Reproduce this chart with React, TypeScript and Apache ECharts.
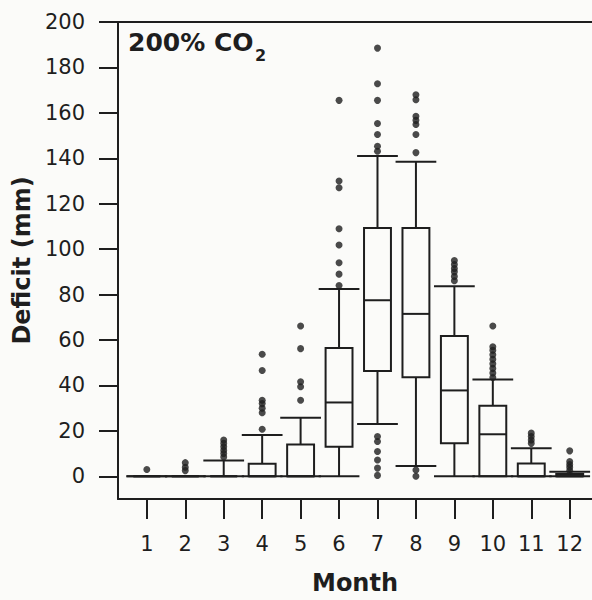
import React, { useEffect, useRef } from "react";
import * as echarts from "echarts";

const months = [1, 2, 3, 4, 5, 6, 7, 8, 9, 10, 11, 12];
const whiskerLow = [0, 0, 0, 0, 0, 0, 23, 4.5, 0, 0, 0, 0];
const quartile1 = [0, 0, 0, 0, 0, 13, 46.3, 43.6, 14.5, 0, 0, 0];
const medians = [0, 0, 0, 0, 0, 32.5, 77.5, 71.5, 37.8, 18.5, 0, 0];
const quartile3 = [0, 0, 0, 5.5, 14, 56.5, 109.3, 109.3, 61.8, 31, 5.6, 1];
const whiskerHigh = [0, 0, 7, 18.2, 25.8, 82.5, 141, 138.5, 83.7, 42.6, 12.3, 2];

const outliers: number[][] = [
  [3],
  [2.5, 4, 6],
  [8.5, 10, 11.5, 13, 14.5, 16],
  [20.7, 28, 30, 32, 33.5, 46.6, 53.7],
  [33.5, 39.4, 41.6, 56.2, 66.2],
  [84, 89, 94, 101.8, 109, 127, 130, 165.5],
  [188.5, 172.8, 165.5, 155.3, 150.5, 145.3, 143.1, 17.5, 15.3, 10.9, 7.2, 3.6, 0.4],
  [168, 165.8, 158.5, 156.7, 154.9, 150.5, 142.5, 2.8, 0],
  [86.1, 88, 90, 91.5, 93.2, 95],
  [43.5, 45.5, 47.5, 49.5, 51.5, 53.5, 55.5, 57, 66.2],
  [14.5, 16, 17.5, 19],
  [2.5, 4, 5.2, 6.5, 11.2],
];

const yTicks = [0, 20, 40, 60, 80, 100, 120, 140, 160, 180, 200];

const INK = "#1e1e1e";
const FONT = "DejaVu Sans";

export default function App() {
  const ref = useRef<HTMLDivElement>(null);
  useEffect(() => {
    document.body.style.margin = "0";
    if (!ref.current) return;
    const chart = echarts.init(ref.current, null, { renderer: "svg" });

    const boxData = months.map((m, i) => [
      m,
      whiskerLow[i],
      quartile1[i],
      medians[i],
      quartile3[i],
      whiskerHigh[i],
    ]);
    const outlierData: number[][] = [];
    months.forEach((m, i) => outliers[i].forEach((v) => outlierData.push([m, v])));

    chart.setOption({
      animation: false,
      backgroundColor: "#fbfbf9",
      grid: { left: 118, right: 0, top: 22, bottom: 99 },
      xAxis: [
        {
          type: "value",
          min: 0.25,
          max: 12.58,
          name: "Month",
          nameLocation: "middle",
          nameGap: 72,
          nameTextStyle: { fontFamily: FONT, fontWeight: "bold", fontSize: 24, color: INK },
          axisLine: { show: true, onZero: false, lineStyle: { color: INK, width: 2 } },
          axisTick: {
            show: true,
            length: 20,
            customValues: months,
            lineStyle: { color: INK, width: 2 },
          },
          axisLabel: {
            customValues: months,
            margin: 34,
            fontFamily: FONT,
            fontSize: 21,
            color: INK,
          },
          splitLine: { show: false },
        },
        {
          type: "value",
          position: "top",
          min: 0.25,
          max: 12.58,
          axisLine: { show: true, onZero: false, lineStyle: { color: INK, width: 2 } },
          axisTick: { show: false },
          axisLabel: { show: false },
          splitLine: { show: false },
        },
      ],
      yAxis: {
        type: "value",
        min: -10,
        max: 200,
        name: "Deficit (mm)",
        nameLocation: "middle",
        nameGap: 82,
        nameTextStyle: { fontFamily: FONT, fontWeight: "bold", fontSize: 24, color: INK },
        axisLine: { show: true, onZero: false, lineStyle: { color: INK, width: 2 } },
        axisTick: {
          show: true,
          length: 19,
          customValues: yTicks,
          lineStyle: { color: INK, width: 2 },
        },
        axisLabel: {
          customValues: yTicks,
          margin: 33,
          fontFamily: FONT,
          fontSize: 21,
          color: INK,
        },
        splitLine: { show: false },
      },
      graphic: [
        {
          type: "text",
          left: 128,
          top: 30,
          style: { text: "200% CO", font: `bold 25px "${FONT}"`, fill: INK },
        },
        {
          type: "text",
          left: 255,
          top: 47,
          style: { text: "2", font: `bold 16px "${FONT}"`, fill: INK },
        },
      ],
      series: [
        {
          type: "custom",
          data: boxData,
          encode: { x: 0, y: [1, 2, 3, 4, 5] },
          renderItem: (params: any, api: any) => {
            const x = api.value(0);
            const mn = api.value(1);
            const q1 = api.value(2);
            const md = api.value(3);
            const q3 = api.value(4);
            const mx = api.value(5);
            const band = api.size([1, 0])[0];
            const boxHalf = band * 0.35;
            const capHalf = band * 0.53;
            const cx = api.coord([x, md])[0];
            const y = (v: number) => api.coord([x, v])[1];
            const style = { stroke: INK, lineWidth: 2, fill: "none" };
            return {
              type: "group",
              children: [
                { type: "line", shape: { x1: cx, y1: y(mx), x2: cx, y2: y(q3) }, style },
                { type: "line", shape: { x1: cx, y1: y(q1), x2: cx, y2: y(mn) }, style },
                { type: "line", shape: { x1: cx - capHalf, y1: y(mx), x2: cx + capHalf, y2: y(mx) }, style },
                { type: "line", shape: { x1: cx - capHalf, y1: y(mn), x2: cx + capHalf, y2: y(mn) }, style },
                {
                  type: "rect",
                  shape: { x: cx - boxHalf, y: y(q3), width: boxHalf * 2, height: y(q1) - y(q3) },
                  style: { stroke: INK, lineWidth: 2, fill: "transparent" },
                },
                { type: "line", shape: { x1: cx - boxHalf, y1: y(md), x2: cx + boxHalf, y2: y(md) }, style },
              ],
            };
          },
        },
        {
          type: "scatter",
          data: outlierData,
          symbol: "circle",
          symbolSize: 7,
          itemStyle: { color: INK },
        },
      ],
    });
    return () => chart.dispose();
  }, []);
  return <div ref={ref} style={{ width: 592, height: 600 }} />;
}
